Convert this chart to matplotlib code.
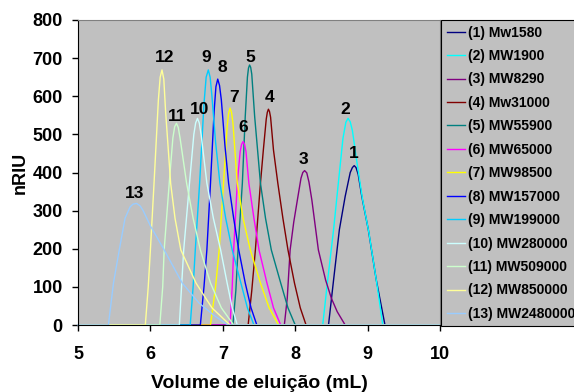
import matplotlib
matplotlib.use("Agg")
import matplotlib.pyplot as plt

plt.rcParams['font.family'] = ['Liberation Sans', 'DejaVu Sans']

labels = ["(1) Mw1580", "(2) MW1900", "(3) MW8290", "(4) Mw31000", "(5) MW55900",
          "(6) MW65000", "(7) MW98500", "(8) MW157000", "(9) MW199000",
          "(10) MW280000", "(11) MW509000", "(12) MW850000", "(13) MW2480000"]
colors = ["#000080", "#00FFFF", "#800080", "#800000", "#008080", "#FF00FF", "#FFFF00",
          "#0000FF", "#00CCFF", "#CCFFFF", "#CCFFCC", "#FFFF99", "#99CCFF"]

x1 = [5.0, 8.46, 8.53, 8.61, 8.69, 8.76, 8.79, 8.815, 8.84, 8.87, 8.92, 9.01, 9.12, 9.24, 10.0]
y1 = [0, 0, 118, 250, 337, 400, 413, 418, 413, 395, 337, 250, 118, 0, 0]
x2 = [5.0, 8.38, 8.45, 8.53, 8.60, 8.66, 8.70, 8.73, 8.76, 8.79, 8.85, 8.93, 9.02, 9.12, 9.21, 10.0]
y2 = [0, 0, 120, 250, 380, 490, 532, 542, 533, 510, 430, 330, 240, 118, 0, 0]
x3 = [5.0, 7.85, 7.89, 7.93, 7.98, 8.03, 8.08, 8.105, 8.13, 8.16, 8.19, 8.23, 8.28, 8.32, 8.42, 8.50, 8.58, 8.69, 10.0]
y3 = [0, 0, 70, 197, 270, 328, 385, 400, 405, 399, 375, 328, 255, 197, 118, 70, 35, 0, 0]
x4 = [5.0, 7.35, 7.40, 7.45, 7.52, 7.56, 7.60, 7.615, 7.63, 7.645, 7.66, 7.70, 7.76, 7.83, 7.90, 7.99, 8.07, 8.15, 10.0]
y4 = [0, 0, 90, 197, 372, 459, 540, 558, 566, 560, 545, 459, 372, 280, 197, 110, 45, 0, 0]
x5 = [5.0, 7.14, 7.18, 7.21, 7.27, 7.31, 7.34, 7.355, 7.37, 7.385, 7.40, 7.44, 7.52, 7.59, 7.67, 7.80, 7.90, 8.00, 10.0]
y5 = [0, 0, 90, 197, 372, 547, 650, 674, 682, 676, 658, 547, 372, 280, 197, 110, 45, 0, 0]
x6 = [5.0, 7.10, 7.13, 7.15, 7.20, 7.24, 7.26, 7.28, 7.30, 7.32, 7.36, 7.43, 7.50, 7.61, 7.70, 7.80, 10.0]
y6 = [0, 0, 100, 197, 372, 455, 474, 481, 474, 455, 372, 280, 197, 110, 45, 0, 0]
x7 = [5.0, 6.83, 6.90, 6.95, 7.01, 7.06, 7.08, 7.10, 7.12, 7.14, 7.20, 7.28, 7.38, 7.52, 7.64, 7.77, 10.0]
y7 = [0, 0, 100, 197, 372, 520, 555, 569, 558, 530, 372, 280, 197, 110, 45, 0, 0]
x8 = [5.0, 6.69, 6.74, 6.78, 6.83, 6.88, 6.905, 6.93, 6.955, 6.98, 7.03, 7.08, 7.15, 7.22, 7.31, 7.39, 7.47, 10.0]
y8 = [0, 0, 100, 197, 372, 560, 625, 645, 628, 590, 470, 372, 280, 197, 110, 45, 0, 0]
x9 = [5.0, 6.55, 6.59, 6.62, 6.68, 6.74, 6.77, 6.80, 6.825, 6.85, 6.90, 6.96, 7.04, 7.13, 7.25, 7.34, 7.43, 10.0]
y9 = [0, 0, 100, 197, 372, 580, 650, 669, 650, 600, 480, 372, 280, 197, 110, 45, 0, 0]
x10 = [5.0, 6.40, 6.43, 6.46, 6.54, 6.60, 6.625, 6.65, 6.675, 6.70, 6.78, 6.87, 6.97, 7.06, 7.13, 7.20, 10.0]
y10 = [0, 0, 100, 197, 372, 500, 530, 542, 530, 500, 372, 280, 197, 110, 45, 0, 0]
x11 = [5.0, 6.13, 6.17, 6.19, 6.26, 6.31, 6.335, 6.36, 6.385, 6.41, 6.50, 6.59, 6.69, 6.83, 6.98, 7.15, 10.0]
y11 = [0, 0, 100, 197, 372, 490, 520, 529, 518, 490, 372, 280, 197, 110, 45, 0, 0]
x12 = [5.0, 5.93, 5.97, 6.00, 6.05, 6.11, 6.135, 6.16, 6.185, 6.21, 6.28, 6.34, 6.42, 6.63, 6.85, 7.10, 10.0]
y12 = [0, 0, 100, 197, 371, 590, 650, 669, 645, 560, 371, 280, 197, 110, 45, 0, 0]
x13 = [5.0, 5.42, 5.49, 5.57, 5.65, 5.72, 5.76, 5.81, 5.86, 5.90, 6.00, 6.19, 6.44, 6.67, 6.88, 7.07, 11.9]
y13 = [0, 0, 110, 197, 280, 310, 317, 319, 312, 300, 260, 197, 110, 58, 25, 0, 0]

xs = [x1, x2, x3, x4, x5, x6, x7, x8, x9, x10, x11, x12, x13]
ys = [y1, y2, y3, y4, y5, y6, y7, y8, y9, y10, y11, y12, y13]

peak_names = ["1", "2", "3", "4", "5", "6", "7", "8", "9", "10", "11", "12", "13"]
peak_lx = [8.81, 8.69, 8.12, 7.64, 7.38, 7.28, 7.16, 7.00, 6.77, 6.68, 6.37, 6.19, 5.78]
peak_ly = [451, 564, 433, 596, 701, 517, 596, 675, 701, 564, 546, 701, 344]

fig = plt.figure(figsize=(5.74, 3.92), dpi=100)
ax = fig.add_axes([78/574, 1-325/392, (440-78)/574, (325-20)/392])
ax.set_facecolor("#C0C0C0")

handles = []
for i in range(13):
    h, = ax.plot(xs[i], ys[i], color=colors[i], lw=1.0, label=labels[i],
                 clip_on=(i != 12))
    handles.append(h)

for n, lx, ly in zip(peak_names, peak_lx, peak_ly):
    ax.text(lx, ly, n, ha="center", va="center", fontsize=12.5, fontweight="bold")

ax.set_xlim(5, 10)
ax.set_ylim(0, 800)
ax.set_xticks([5, 6, 7, 8, 9, 10])
ax.set_yticks(range(0, 801, 100))
ax.tick_params(direction="out", length=4, width=1, labelsize=13)
ax.tick_params(axis="y", pad=7)
ax.tick_params(axis="x", pad=11)
for lab in ax.get_xticklabels() + ax.get_yticklabels():
    lab.set_fontweight("bold")
for s in ["top", "right"]:
    ax.spines[s].set_color("#808080")
ax.spines["left"].set_color("black")
ax.spines["bottom"].set_color("black")

ax.set_xlabel("Volume de eluição (mL)", fontsize=14, fontweight="bold", labelpad=9)
ax.set_ylabel("nRIU", fontsize=13, fontweight="bold", labelpad=3)

leg = fig.legend(handles=handles, labels=labels, loc="upper left",
                 bbox_to_anchor=(441/574, 1-20/392), bbox_transform=fig.transFigure,
                 prop={"weight": "bold", "size": 10},
                 frameon=True, fancybox=False, edgecolor="black",
                 facecolor="#C0C0C0", framealpha=1, labelspacing=0.68,
                 handlelength=1.35, handletextpad=0.2, borderpad=0.4,
                 borderaxespad=0)
leg.get_frame().set_linewidth(0.8)

fig.savefig("out.png", dpi=100)
